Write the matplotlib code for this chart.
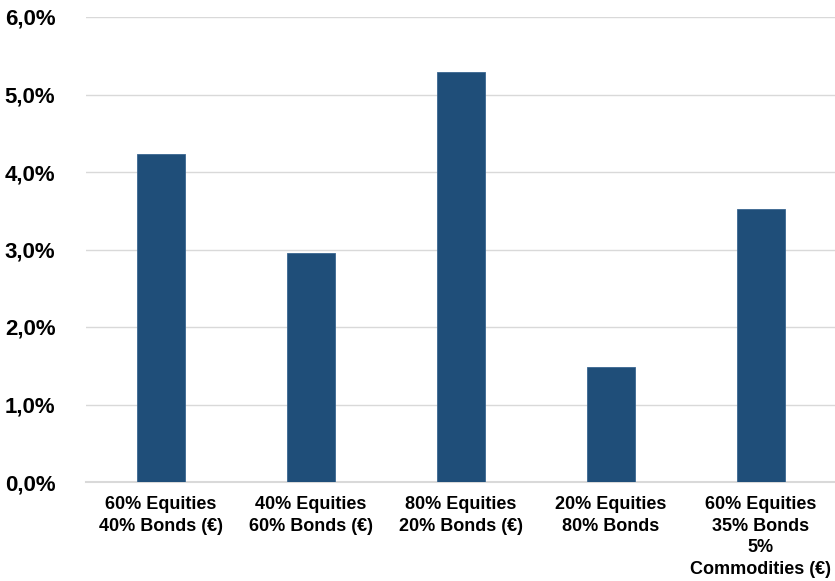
import matplotlib.pyplot as plt
import matplotlib.ticker as mticker
import numpy as np

# ── data ──────────────────────────────────────────────────────────────────────
portfolios = [
    "60% Equities\n40% Bonds (€)",
    "40% Equities\n60% Bonds (€)",
    "80% Equities\n20% Bonds (€)",
    "20% Equities\n80% Bonds",
    "60% Equities\n35% Bonds\n5%\nCommodities (€)",
]
returns_pct = [4.23, 2.95, 5.29, 1.48, 3.52]

plt.rcParams["font.family"] = ["Liberation Sans", "DejaVu Sans"]

fig = plt.figure(figsize=(8.35, 5.81), dpi=100)
ax = fig.add_axes([86 / 835, 1 - 482 / 581, 750 / 835, 465 / 581])

x = np.arange(len(portfolios))
ax.bar(x, returns_pct, width=0.32, color="#1F4E79", edgecolor="#3A6690",
       linewidth=0.6, zorder=3)

ax.set_xlim(-0.5, len(portfolios) - 0.5)
ax.set_ylim(0, 6)
ax.set_yticks(np.arange(0, 7, 1))
ax.yaxis.set_major_formatter(mticker.FuncFormatter(lambda v, _: f"{v:.1f}%".replace(".", ",")))
ax.grid(axis="y", color="#D9D9D9", linewidth=1, zorder=0)

ax.set_xticks(x)
ax.set_xticklabels(portfolios, fontsize=13, fontweight="bold", linespacing=1.36)
for lbl in ax.get_yticklabels():
    lbl.set_fontsize(16)
    lbl.set_fontweight("bold")

ax.tick_params(axis="both", length=0)
ax.tick_params(axis="y", pad=22)
ax.tick_params(axis="x", pad=10)
for side in ["top", "right", "left"]:
    ax.spines[side].set_visible(False)
ax.spines["bottom"].set_color("#D9D9D9")
ax.spines["bottom"].set_linewidth(1.5)

plt.savefig("out.png", dpi=100)
